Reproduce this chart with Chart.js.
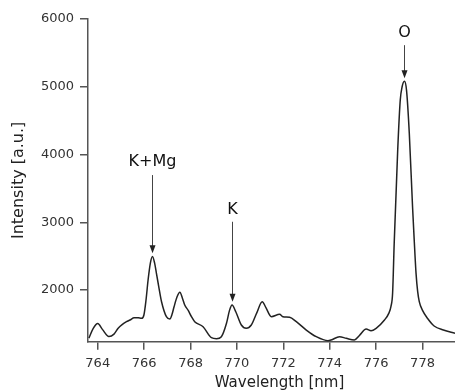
<!DOCTYPE html>
<html>
<head>
<meta charset="utf-8">
<script src="https://cdn.jsdelivr.net/npm/chart.js@4/dist/chart.umd.min.js"></script>
<style>
  body { margin: 0; background: #fff; }
  #spectrum { display: block; }
</style>
</head>
<body>
<canvas id="spectrum" width="455" height="391"></canvas>
<script>
// spectrum
var wavelength = [763.62, 763.8, 764.0, 764.2, 764.48, 764.7, 764.88, 765.05, 765.24, 765.39,
    765.57, 765.75, 765.89, 765.99, 766.08, 766.17, 766.27, 766.36, 766.45, 766.53,
    766.64, 766.75, 766.96, 767.11, 767.2, 767.29, 767.42, 767.54, 767.65, 767.75,
    767.9, 768.04, 768.18, 768.54, 768.9, 769.12, 769.33, 769.55, 769.68, 769.79,
    769.95, 770.19, 770.4, 770.62, 770.85, 771.09, 771.25, 771.48, 771.84, 771.98,
    772.27, 772.56, 772.99, 773.42, 773.92, 774.06, 774.42, 774.71, 775.06, 775.28,
    775.57, 775.78, 776.0, 776.36, 776.55, 776.64, 776.71, 776.78, 776.93, 777.04,
    777.12, 777.22, 777.31, 777.43, 777.57, 777.64, 777.72, 777.79, 777.86, 778.0,
    778.22, 778.5, 778.9, 779.4];
var intensity = [1290, 1430, 1505, 1420, 1315, 1350, 1436, 1490, 1533, 1558,
    1592, 1590, 1583, 1632, 1850, 2148, 2400, 2495, 2400, 2247,
    2030, 1828, 1607, 1573, 1640, 1754, 1900, 1967, 1880, 1779,
    1700, 1607, 1533, 1459, 1297, 1282, 1312, 1510, 1700, 1779,
    1680, 1484, 1436, 1484, 1660, 1828, 1740, 1607, 1642, 1607,
    1598, 1533, 1410, 1312, 1253, 1263, 1312, 1288, 1263, 1330,
    1425, 1400, 1436, 1558, 1660, 1760, 1952, 2700, 4065, 4803,
    5000, 5080, 4950, 4312, 3229, 2750, 2250, 1980, 1830, 1700,
    1580, 1470, 1410, 1362];

var xTicks = [764, 766, 768, 770, 772, 774, 776, 778];
var yTicks = [2000, 3000, 4000, 5000, 6000];

// peak labels: text, wavelength, label height, arrow start, arrow tip (in data units)
var peakText = ['K+Mg', 'K', 'O'];
var peakWl = [766.36, 769.79, 777.22];
var peakLabelY = [3893, 3191, 5791];
var peakArrowTop = [3697, 3008, 5614];
var peakArrowTip = [2542, 1828, 5127];

var points = wavelength.map(function(w, i) { return {x: w, y: intensity[i]}; });

var axisColor = '#555';
var tickFont = {family: 'DejaVu Sans', size: 13};

var peakArrows = {
    id: 'peakArrows',
    afterDatasetsDraw: function(chart) {
        var ctx = chart.ctx;
        var xs = chart.scales.x, ys = chart.scales.y;
        ctx.save();
        for (var i = 0; i < peakText.length; i++) {
            var px = Math.round(xs.getPixelForValue(peakWl[i])) + 0.5;
            var top = ys.getPixelForValue(peakArrowTop[i]);
            var tip = ys.getPixelForValue(peakArrowTip[i]);

            ctx.strokeStyle = '#444';
            ctx.lineWidth = 1;
            ctx.beginPath();
            ctx.moveTo(px, top);
            ctx.lineTo(px, tip - 6);
            ctx.stroke();

            ctx.fillStyle = '#222';
            ctx.beginPath();
            ctx.moveTo(px, tip);
            ctx.lineTo(px - 3, tip - 8);
            ctx.lineTo(px + 3, tip - 8);
            ctx.closePath();
            ctx.fill();

            ctx.fillStyle = '#111';
            ctx.font = '16px "DejaVu Sans"';
            ctx.textAlign = 'center';
            ctx.textBaseline = 'middle';
            ctx.fillText(peakText[i], px, ys.getPixelForValue(peakLabelY[i]));
        }

        // x title sits a little right of the plot centre in the original
        var area = chart.chartArea;
        ctx.fillStyle = '#222';
        ctx.font = '15px "DejaVu Sans"';
        ctx.textAlign = 'center';
        ctx.textBaseline = 'middle';
        ctx.fillText('Wavelength [nm]', (area.left + area.right) / 2 + 8, 383);
        ctx.restore();
    }
};

const config = {
    type: 'line',
    data: {
        datasets: [{
            label: 'Intensity',
            data: points,
            borderColor: '#222',
            borderWidth: 1.5,
            pointRadius: 0,
            fill: false,
            cubicInterpolationMode: 'monotone'
        }]
    },
    options: {
        responsive: false,
        animation: false,
        layout: { padding: { top: 19, right: 0, bottom: 0, left: 0 } },
        plugins: {
            legend: { display: false },
            tooltip: { enabled: false }
        },
        scales: {
            x: {
                type: 'linear',
                min: 763.58,
                max: 779.4,
                afterBuildTicks: function(s) { s.ticks = xTicks.map(function(v) { return {value: v}; }); },
                afterFit: function(s) { s.height = 49.3; },
                grid: { drawOnChartArea: false, drawTicks: true, tickLength: 8, color: axisColor, lineWidth: 1.5 },
                border: { display: true, color: axisColor, width: 1.5 },
                ticks: { font: tickFont, color: '#333', padding: 6, maxRotation: 0, autoSkip: false,
                    callback: function(v) { return String(v); } }
            },
            y: {
                min: 1238,
                max: 6000,
                afterBuildTicks: function(s) { s.ticks = yTicks.map(function(v) { return {value: v}; }); },
                afterFit: function(s) { s.width = 88; },
                grid: { drawOnChartArea: false, drawTicks: true, tickLength: 8, color: axisColor, lineWidth: 1.5 },
                border: { display: true, color: axisColor, width: 1.5 },
                ticks: { font: tickFont, color: '#333', padding: 6,
                    callback: function(v) { return String(v); } },
                title: {
                    display: true,
                    text: 'Intensity [a.u.]',
                    font: { family: 'DejaVu Sans', size: 16 },
                    color: '#222',
                    padding: { top: 9, bottom: 0 }
                }
            }
        }
    },
    plugins: [peakArrows]
};

const myChart = new Chart(document.getElementById('spectrum'), config);
</script>
</body>
</html>
